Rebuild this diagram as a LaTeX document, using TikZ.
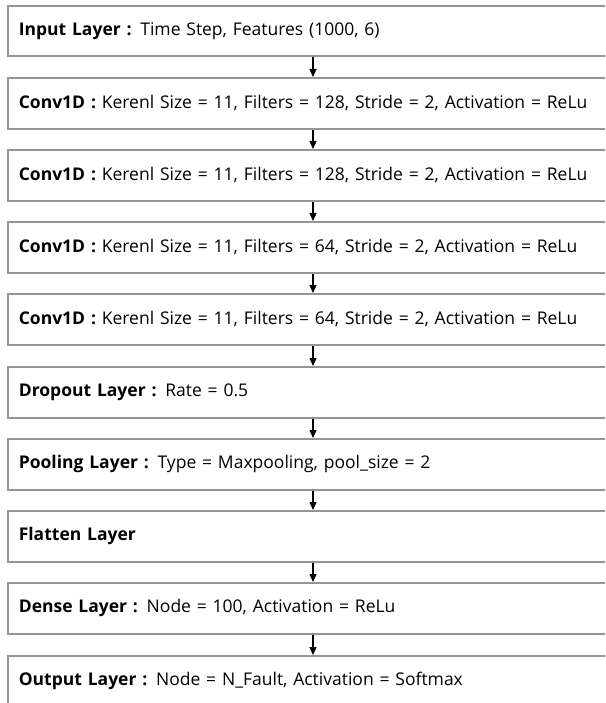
\documentclass[tikz,border=0pt]{standalone}
\usepackage{fontspec}
\setmainfont{Open Sans}
\usetikzlibrary{arrows.meta}
\definecolor{boxgray}{RGB}{150,150,150}
\tikzset{
  layerbox/.style={draw=boxgray, line width=1.6pt, anchor=north west,
    minimum height=51pt, text width=600pt, inner xsep=11pt, inner ysep=0pt,
    align=left, font=\fontsize{17.5}{20}\selectfont},
  arr/.style={line width=1.2pt, black, -{Triangle[width=7pt,length=8pt]}}
}
\begin{document}
\begin{tikzpicture}[x=1pt,y=-1pt]
\useasboundingbox (0,0) rectangle (605,703);
\clip (0,0) rectangle (605,703);
\fill[white] (0,0) rectangle (605,703);
\node[layerbox, minimum height=50pt] (b1) at (7,5) {\textbf{Input Layer :} Time Step, Features (1000, 6)};
\node[layerbox] (b2) at (7,77) {\textbf{Conv1D :} Kerenl Size = 11, Filters = 128, Stride = 2, Activation = ReLu};
\node[layerbox] (b3) at (7,149) {\textbf{Conv1D :} Kerenl Size = 11, Filters = 128, Stride = 2, Activation = ReLu};
\node[layerbox] (b4) at (7,221) {\textbf{Conv1D :} Kerenl Size = 11, Filters = 64, Stride = 2, Activation = ReLu};
\node[layerbox] (b5) at (7,293) {\textbf{Conv1D :} Kerenl Size = 11, Filters = 64, Stride = 2, Activation = ReLu};
\node[layerbox] (b6) at (7,366) {\textbf{Dropout Layer :} Rate = 0.5};
\node[layerbox] (b7) at (7,438) {\textbf{Pooling Layer :} Type = Maxpooling, pool\_size = 2};
\node[layerbox] (b8) at (7,510) {\textbf{Flatten Layer}};
\node[layerbox] (b9) at (7,582) {\textbf{Dense Layer :} Node = 100, Activation = ReLu};
\node[layerbox] (b10) at (7,655) {\textbf{Output Layer :} Node = N\_Fault, Activation = Softmax};
\coordinate (ax) at (313,0);
\foreach \a/\b in {b1/b2,b2/b3,b3/b4,b4/b5,b5/b6,b6/b7,b7/b8,b8/b9,b9/b10}
  \draw[arr] (\a.south -| ax) -- (\b.north -| ax);
\end{tikzpicture}
\end{document}
